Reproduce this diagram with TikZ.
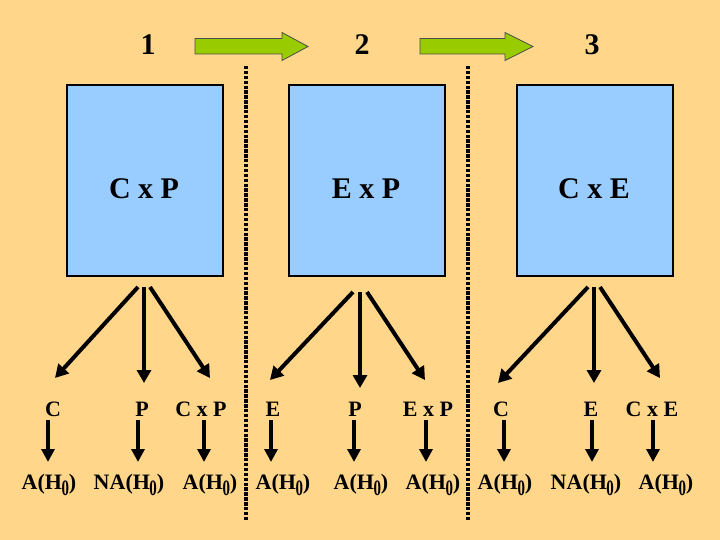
\documentclass[tikz,border=0pt]{standalone}
\usepackage{fontspec}
\usepackage{graphicx}
\setmainfont{Liberation Serif}
\usetikzlibrary{arrows.meta}
\definecolor{bg}{HTML}{FFD68A}
\definecolor{boxblue}{HTML}{99CCFF}
\definecolor{arrgreen}{HTML}{99CC00}
\newcommand{\Hzero}{H\kern-0.5pt\raisebox{-6.5pt}{\scalebox{0.68}[1]{0}}}
\begin{document}
\begin{tikzpicture}[x=1pt,y=-1pt,
  panel/.style={draw=black, line width=1.6pt, fill=boxblue, minimum width=156pt, minimum height=191pt, inner sep=0pt, anchor=north west},
  big/.style={font=\fontsize{30}{36}\selectfont\bfseries, inner sep=0pt, anchor=base},
  mid/.style={font=\fontsize{22}{26}\selectfont\bfseries, inner sep=0pt, anchor=base},
  fan/.style={line width=4pt, -{Triangle[length=13pt,width=14pt]}},
  darr/.style={line width=4pt, -{Triangle[length=13pt,width=13pt]}},
  sep/.style={line width=4.8pt, dash pattern=on 3.4pt off 1.5pt},
  block/.style={draw=black!70, line width=0.8pt, fill=arrgreen}
]
\fill[bg] (0,0) rectangle (720,540);
\useasboundingbox (0,0) rectangle (720,540);

% titles
\node[big] (t1) at (148,55) {1};
\node[big] (t2) at (362,55) {2};
\node[big] (t3) at (592,55) {3};

% green block arrows
\draw[block] (195,38.5) -- (282,38.5) -- (282,32.5) -- (308,46.5) -- (282,60.5) -- (282,54) -- (195,54) -- cycle;
\draw[block] (420,38.5) -- (505,38.5) -- (505,32.5) -- (533,46.5) -- (505,60.5) -- (505,54) -- (420,54) -- cycle;

% separators
\coordinate (s1a) at (246,66); \coordinate (s1b) at (246,520);
\coordinate (s2a) at (468,66); \coordinate (s2b) at (468,520);
\draw[sep] (s1a) -- (s1b);
\draw[sep] (s2a) -- (s2b);

% boxes
\node[panel] (b1) at (66,84) {};
\node[panel] (b2) at (288,84) {};
\node[panel] (b3) at (516,84) {};
\node[big] (bl1) at (144,199) {C x P};
\node[big] (bl2) at (366,199) {E x P};
\node[big] (bl3) at (594,199) {C x E};

% fan arrows
\coordinate (f1l) at (138,287); \coordinate (f1m) at (144,287); \coordinate (f1r) at (150,287);
\coordinate (f2l) at (353,292); \coordinate (f2m) at (360,292); \coordinate (f2r) at (367,292);
\coordinate (f3l) at (588,287); \coordinate (f3m) at (594,287); \coordinate (f3r) at (600,287);
\coordinate (e1l) at (55,378);  \coordinate (e1m) at (144,383); \coordinate (e1r) at (210,378);
\coordinate (e2l) at (270,380); \coordinate (e2m) at (360,388); \coordinate (e2r) at (425,380);
\coordinate (e3l) at (498,383); \coordinate (e3m) at (594,383); \coordinate (e3r) at (660,378);
\draw[fan] (f1l) -- (e1l); \draw[fan] (f1m) -- (e1m); \draw[fan] (f1r) -- (e1r);
\draw[fan] (f2l) -- (e2l); \draw[fan] (f2m) -- (e2m); \draw[fan] (f2r) -- (e2r);
\draw[fan] (f3l) -- (e3l); \draw[fan] (f3m) -- (e3m); \draw[fan] (f3r) -- (e3r);

% middle labels
\node[mid] (m1) at (53,416) {C};
\node[mid] (m2) at (142,416) {P};
\node[mid] (m3) at (201,416) {C x P};
\node[mid] (m4) at (273,416) {E};
\node[mid] (m5) at (355,416) {P};
\node[mid] (m6) at (428,416) {E x P};
\node[mid] (m7) at (501,416) {C};
\node[mid] (m8) at (591,416) {E};
\node[mid] (m9) at (652,416) {C x E};

% bottom labels
\node[mid] (r1) at (49,489) {A(\Hzero)};
\node[mid] (r2) at (129,489) {NA(\Hzero)};
\node[mid] (r3) at (210,489) {A(\Hzero)};
\node[mid] (r4) at (283,489) {A(\Hzero)};
\node[mid] (r5) at (361,489) {A(\Hzero)};
\node[mid] (r6) at (433,489) {A(\Hzero)};
\node[mid] (r7) at (505,489) {A(\Hzero)};
\node[mid] (r8) at (586,489) {NA(\Hzero)};
\node[mid] (r9) at (666,489) {A(\Hzero)};

% down arrows
\foreach \i/\x in {1/48,2/138,3/204,4/271,5/354,6/426,7/504,8/592,9/653}{
  \coordinate (d\i) at (\x,420);
  \draw[darr] (d\i) -- ++(0,42);
}
\end{tikzpicture}
\end{document}
